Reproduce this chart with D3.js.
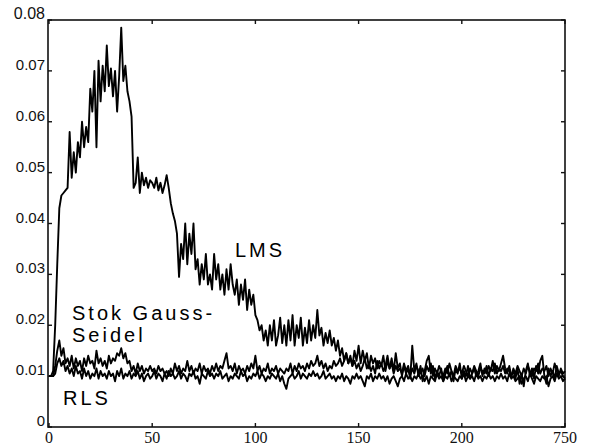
<!DOCTYPE html>
<html>
<head>
<meta charset="utf-8">
<script src="https://cdn.jsdelivr.net/npm/d3@7/dist/d3.min.js"></script>
<style>
  body { margin: 0; background: #fff; }
  svg { display: block; }
</style>
</head>
<body>
<svg id="chart" width="589" height="445"></svg>
<script>
// mean-square error curves, one sample per iteration 0..250
const lms = [
  0.0100,0.0100,0.0110,0.0200,0.0320,0.0430,0.0455,0.0460,0.0465,0.0470,
  0.0580,0.0490,0.0540,0.0500,0.0560,0.0530,0.0600,0.0550,0.0590,0.0560,
  0.0665,0.0620,0.0700,0.0550,0.0720,0.0640,0.0710,0.0660,0.0750,0.0670,
  0.0705,0.0650,0.0700,0.0620,0.0690,0.0785,0.0680,0.0710,0.0660,0.0640,
  0.0610,0.0470,0.0480,0.0530,0.0460,0.0500,0.0475,0.0490,0.0470,0.0485,
  0.0480,0.0470,0.0490,0.0465,0.0480,0.0460,0.0475,0.0495,0.0470,0.0440,
  0.0420,0.0405,0.0380,0.0295,0.0360,0.0330,0.0400,0.0320,0.0380,0.0340,
  0.0400,0.0310,0.0330,0.0280,0.0320,0.0290,0.0340,0.0280,0.0300,0.0270,
  0.0340,0.0290,0.0320,0.0270,0.0300,0.0260,0.0310,0.0270,0.0320,0.0280,
  0.0260,0.0290,0.0240,0.0280,0.0250,0.0290,0.0230,0.0270,0.0240,0.0260,
  0.0220,0.0210,0.0190,0.0200,0.0170,0.0190,0.0160,0.0200,0.0170,0.0210,
  0.0160,0.0180,0.0215,0.0165,0.0200,0.0160,0.0210,0.0170,0.0220,0.0160,
  0.0200,0.0175,0.0215,0.0160,0.0195,0.0165,0.0210,0.0170,0.0200,0.0175,
  0.0230,0.0180,0.0195,0.0160,0.0185,0.0165,0.0190,0.0160,0.0175,0.0150,
  0.0170,0.0140,0.0155,0.0130,0.0145,0.0125,0.0140,0.0120,0.0150,0.0130,
  0.0160,0.0125,0.0150,0.0130,0.0145,0.0115,0.0140,0.0125,0.0135,0.0115,
  0.0130,0.0120,0.0140,0.0110,0.0130,0.0115,0.0135,0.0110,0.0145,0.0115,
  0.0125,0.0100,0.0120,0.0105,0.0115,0.0095,0.0160,0.0110,0.0125,0.0100,
  0.0120,0.0090,0.0110,0.0130,0.0140,0.0105,0.0120,0.0095,0.0110,0.0100,
  0.0115,0.0090,0.0105,0.0120,0.0100,0.0110,0.0090,0.0115,0.0105,0.0125,
  0.0095,0.0110,0.0100,0.0120,0.0095,0.0105,0.0115,0.0100,0.0110,0.0125,
  0.0100,0.0115,0.0105,0.0120,0.0110,0.0130,0.0105,0.0120,0.0110,0.0125,
  0.0140,0.0115,0.0105,0.0120,0.0100,0.0110,0.0095,0.0115,0.0085,0.0105,
  0.0080,0.0110,0.0125,0.0100,0.0115,0.0095,0.0120,0.0105,0.0130,0.0140,
  0.0100,0.0085,0.0115,0.0100,0.0110,0.0095,0.0120,0.0105,0.0110,0.0100,
  0.0095
];

const stokGS = [
  0.0100,0.0100,0.0100,0.0120,0.0150,0.0170,0.0140,0.0155,0.0125,0.0135,
  0.0120,0.0140,0.0115,0.0135,0.0120,0.0130,0.0110,0.0135,0.0120,0.0140,
  0.0125,0.0130,0.0115,0.0150,0.0125,0.0135,0.0120,0.0130,0.0115,0.0140,
  0.0125,0.0135,0.0130,0.0145,0.0140,0.0155,0.0135,0.0145,0.0125,0.0130,
  0.0110,0.0120,0.0105,0.0125,0.0110,0.0120,0.0105,0.0115,0.0110,0.0120,
  0.0110,0.0115,0.0105,0.0120,0.0110,0.0115,0.0105,0.0110,0.0100,0.0115,
  0.0105,0.0125,0.0110,0.0120,0.0105,0.0115,0.0110,0.0130,0.0110,0.0120,
  0.0105,0.0115,0.0110,0.0125,0.0105,0.0120,0.0110,0.0115,0.0105,0.0120,
  0.0110,0.0125,0.0110,0.0120,0.0115,0.0130,0.0145,0.0115,0.0120,0.0110,
  0.0125,0.0105,0.0120,0.0110,0.0115,0.0105,0.0120,0.0110,0.0125,0.0115,
  0.0140,0.0110,0.0120,0.0105,0.0115,0.0110,0.0125,0.0105,0.0115,0.0110,
  0.0120,0.0105,0.0115,0.0110,0.0105,0.0115,0.0110,0.0125,0.0105,0.0120,
  0.0110,0.0125,0.0115,0.0120,0.0110,0.0125,0.0115,0.0130,0.0120,0.0125,
  0.0140,0.0120,0.0130,0.0115,0.0125,0.0110,0.0120,0.0115,0.0130,0.0120,
  0.0125,0.0135,0.0120,0.0130,0.0145,0.0125,0.0135,0.0120,0.0130,0.0115,
  0.0125,0.0110,0.0120,0.0135,0.0115,0.0125,0.0110,0.0120,0.0105,0.0130,
  0.0115,0.0125,0.0110,0.0120,0.0140,0.0115,0.0125,0.0105,0.0120,0.0110,
  0.0115,0.0105,0.0125,0.0110,0.0120,0.0100,0.0115,0.0105,0.0120,0.0110,
  0.0105,0.0115,0.0100,0.0120,0.0110,0.0125,0.0100,0.0115,0.0105,0.0120,
  0.0110,0.0100,0.0115,0.0105,0.0125,0.0110,0.0100,0.0120,0.0110,0.0115,
  0.0105,0.0120,0.0110,0.0100,0.0115,0.0105,0.0120,0.0110,0.0100,0.0115,
  0.0110,0.0105,0.0120,0.0100,0.0115,0.0110,0.0125,0.0105,0.0115,0.0110,
  0.0120,0.0105,0.0115,0.0110,0.0100,0.0115,0.0105,0.0120,0.0110,0.0100,
  0.0115,0.0105,0.0120,0.0110,0.0100,0.0115,0.0110,0.0125,0.0105,0.0115,
  0.0110,0.0120,0.0100,0.0115,0.0105,0.0125,0.0110,0.0100,0.0115,0.0105,
  0.0110
];

const rls = [
  0.0100,0.0100,0.0100,0.0105,0.0125,0.0135,0.0120,0.0130,0.0110,0.0120,
  0.0105,0.0115,0.0100,0.0120,0.0105,0.0110,0.0095,0.0115,0.0100,0.0110,
  0.0095,0.0105,0.0100,0.0115,0.0095,0.0110,0.0100,0.0105,0.0095,0.0110,
  0.0100,0.0105,0.0090,0.0110,0.0100,0.0115,0.0095,0.0105,0.0100,0.0110,
  0.0095,0.0105,0.0100,0.0110,0.0095,0.0105,0.0090,0.0100,0.0105,0.0095,
  0.0100,0.0110,0.0095,0.0105,0.0100,0.0090,0.0105,0.0095,0.0110,0.0100,
  0.0105,0.0095,0.0100,0.0110,0.0095,0.0105,0.0100,0.0090,0.0105,0.0100,
  0.0110,0.0095,0.0100,0.0085,0.0105,0.0100,0.0095,0.0110,0.0100,0.0105,
  0.0095,0.0105,0.0100,0.0110,0.0095,0.0100,0.0105,0.0090,0.0100,0.0095,
  0.0105,0.0100,0.0095,0.0110,0.0100,0.0105,0.0090,0.0100,0.0095,0.0105,
  0.0100,0.0110,0.0095,0.0105,0.0100,0.0090,0.0100,0.0095,0.0105,0.0100,
  0.0095,0.0105,0.0090,0.0100,0.0085,0.0075,0.0095,0.0100,0.0105,0.0095,
  0.0100,0.0110,0.0095,0.0105,0.0100,0.0095,0.0105,0.0100,0.0110,0.0100,
  0.0105,0.0095,0.0100,0.0110,0.0095,0.0100,0.0105,0.0095,0.0100,0.0090,
  0.0100,0.0095,0.0105,0.0090,0.0100,0.0095,0.0085,0.0100,0.0095,0.0105,
  0.0095,0.0100,0.0090,0.0080,0.0100,0.0095,0.0105,0.0090,0.0100,0.0095,
  0.0105,0.0095,0.0100,0.0090,0.0100,0.0085,0.0095,0.0100,0.0090,0.0080,
  0.0095,0.0100,0.0090,0.0105,0.0095,0.0100,0.0090,0.0100,0.0095,0.0105,
  0.0095,0.0100,0.0090,0.0100,0.0085,0.0100,0.0095,0.0090,0.0105,0.0095,
  0.0100,0.0090,0.0100,0.0095,0.0105,0.0090,0.0100,0.0095,0.0090,0.0100,
  0.0095,0.0105,0.0090,0.0100,0.0095,0.0100,0.0090,0.0105,0.0095,0.0100,
  0.0090,0.0100,0.0095,0.0105,0.0095,0.0100,0.0090,0.0100,0.0095,0.0105,
  0.0095,0.0100,0.0090,0.0105,0.0095,0.0100,0.0090,0.0095,0.0100,0.0085,
  0.0095,0.0100,0.0090,0.0105,0.0095,0.0085,0.0100,0.0095,0.0090,0.0100,
  0.0095,0.0100,0.0080,0.0095,0.0100,0.0090,0.0105,0.0095,0.0100,0.0090,
  0.0095
];

const xTicks = [0, 50, 100, 150, 200, 250];
const xTickLabels = ['0', '50', '100', '150', '200', '750'];
const yTicks = [0, 0.01, 0.02, 0.03, 0.04, 0.05, 0.06, 0.07, 0.08];
const yTickLabels = ['0', '0.01', '0.02', '0.03', '0.04', '0.05', '0.06', '0.07', '0.08'];

const svg = d3.select('#chart');
const plot = { left: 48, right: 565, top: 20, bottom: 427 };

const x = d3.scaleLinear().domain([0, 250]).range([plot.left + 1, plot.right]);
const y = d3.scaleLinear().domain([0, 0.08]).range([plot.bottom, plot.top]);

// frame
svg.append('rect')
    .attr('x', plot.left).attr('y', plot.top)
    .attr('width', plot.right - plot.left).attr('height', plot.bottom - plot.top)
    .attr('fill', 'none')
    .attr('stroke', '#111')
    .attr('stroke-width', 1.6);

// inward ticks on all four sides
const tickG = svg.append('g').attr('stroke', '#111').attr('stroke-width', 1.4);
yTicks.forEach(v => {
    tickG.append('line').attr('x1', plot.left).attr('x2', plot.left + 4).attr('y1', y(v)).attr('y2', y(v));
    tickG.append('line').attr('x1', plot.right - 4).attr('x2', plot.right).attr('y1', y(v)).attr('y2', y(v));
});
xTicks.forEach(v => {
    tickG.append('line').attr('x1', x(v)).attr('x2', x(v)).attr('y1', plot.top).attr('y2', plot.top + 4);
    tickG.append('line').attr('x1', x(v)).attr('x2', x(v)).attr('y1', plot.bottom - 4).attr('y2', plot.bottom);
});

// y tick labels
svg.append('g')
    .selectAll('text')
    .data(yTicks)
    .enter().append('text')
    .attr('x', plot.left - 3)
    .attr('y', d => y(d) - 1)
    .attr('text-anchor', 'end')
    .style('font-family', '"Liberation Sans", Arial, sans-serif')
    .style('font-size', d => d === 0.08 ? '16px' : '15px')
    .style('fill', '#111')
    .text((d, i) => yTickLabels[i]);

// x tick labels
svg.append('g')
    .selectAll('text')
    .data(xTicks)
    .enter().append('text')
    .attr('x', d => x(d))
    .attr('y', plot.bottom + 16)
    .attr('text-anchor', 'middle')
    .style('font-family', '"Liberation Serif", "Times New Roman", serif')
    .style('font-size', '16px')
    .style('fill', '#111')
    .text((d, i) => xTickLabels[i]);

// curves
const line = d3.line()
    .x((d, i) => x(i))
    .y(d => y(d));

const series = [rls, stokGS, lms];
svg.append('g')
    .selectAll('path')
    .data(series)
    .enter().append('path')
    .attr('d', d => line(d))
    .attr('fill', 'none')
    .attr('stroke', '#000')
    .attr('stroke-width', 1.9)
    .attr('stroke-linejoin', 'round');

// curve labels
const labels = [
    { text: 'LMS', x: 235, y: 257 },
    { text: 'Stok Gauss-', x: 72, y: 320 },
    { text: 'Seidel', x: 72, y: 342 },
    { text: 'RLS', x: 63, y: 405 }
];
svg.append('g')
    .selectAll('text')
    .data(labels)
    .enter().append('text')
    .attr('x', d => d.x)
    .attr('y', d => d.y)
    .style('font-family', '"Liberation Sans", Arial, sans-serif')
    .style('font-size', '20px')
    .style('letter-spacing', '3px')
    .style('fill', '#000')
    .text(d => d.text);
</script>
</body>
</html>
